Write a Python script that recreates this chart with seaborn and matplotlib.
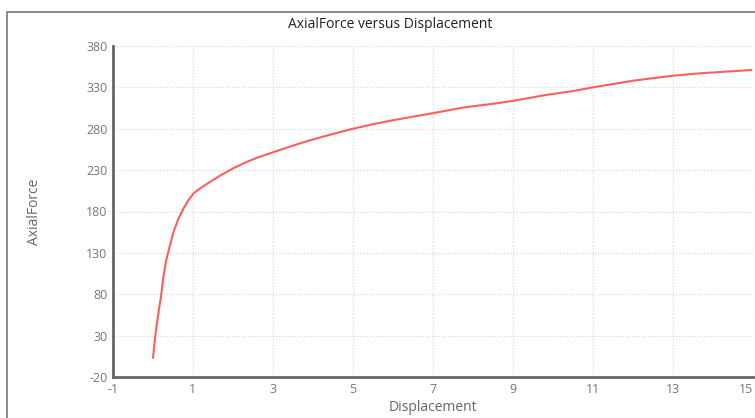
import matplotlib
matplotlib.use("Agg")
import matplotlib.pyplot as plt
import seaborn as sns
import pandas as pd
from matplotlib.patches import Rectangle

displacement = [0.0, 0.06, 0.14, 0.2, 0.265, 0.33, 0.415, 0.515, 0.64, 0.765, 0.89,
                1.015, 1.18, 1.4, 1.7, 2.0, 2.3, 2.6, 3.0, 3.43, 3.85, 4.27, 4.68,
                5.0, 5.5, 5.93, 6.52, 7.0, 7.77, 8.6, 9.0, 9.85, 10.5, 11.0, 11.5, 12.0,
                12.98, 13.68, 14.97]
axial_force = [3, 31, 59, 77, 103, 121, 137.5, 155.7, 171.7, 183.8, 194,
               202, 208, 215, 224, 232, 239, 245, 251.5, 258.5, 265, 270.7, 276,
               280, 285.5, 289.6, 294.8, 298.8, 305.7, 310.8, 313.7, 321, 325.5, 330, 334, 338,
               344, 347, 351]
x_ticks = [-1, 1, 3, 5, 7, 9, 11, 13, 15]
y_ticks = [-20, 30, 80, 130, 180, 230, 280, 330, 380]

df = pd.DataFrame({"Displacement": displacement, "AxialForce": axial_force})

sns.set_theme(style="white")
plt.rcParams["font.family"] = ["Open Sans", "DejaVu Sans"]
plt.rcParams["axes.unicode_minus"] = False

fig = plt.figure(figsize=(7.55, 4.18), dpi=100)
ax = fig.add_axes([113 / 755, 1 - 377 / 418, (752.7 - 113) / 755, (377 - 46) / 418])

sns.lineplot(data=df, x="Displacement", y="AxialForce", sort=False, ax=ax,
             color="#ff5e5e", linewidth=1.5)

ax.set_xlim(-1, 15)
ax.set_ylim(-20, 380)
ax.set_xticks(x_ticks)
ax.set_yticks(y_ticks)
ax.grid(True, color="#d8d8d8", linestyle=(0, (1, 1.5)), linewidth=0.9)
ax.tick_params(length=0, labelsize=9, colors="#777777", pad=4)
xlabels = ax.get_xticklabels()
xlabels[-1].set_horizontalalignment("right")
xlabels[-1].set_x(15)
for s in ["top", "right"]:
    ax.spines[s].set_visible(False)
for s in ["left", "bottom"]:
    ax.spines[s].set_color("#666666")
    ax.spines[s].set_linewidth(2)

ax.set_xlabel("Displacement", fontsize=10, color="#666666", labelpad=3)
ax.set_ylabel("AxialForce", fontsize=10, color="#666666", labelpad=32)
fig.text(390 / 755, 1 - 24 / 418, "AxialForce versus Displacement",
         ha="center", va="center", fontsize=10, color="#222222")

fig.patches.append(Rectangle((7 / 755, -0.1), 1.2, 1.1 - 12 / 418,
                             transform=fig.transFigure, fill=False,
                             edgecolor="#777777", linewidth=1.2))

fig.savefig("out.png", dpi=100)
